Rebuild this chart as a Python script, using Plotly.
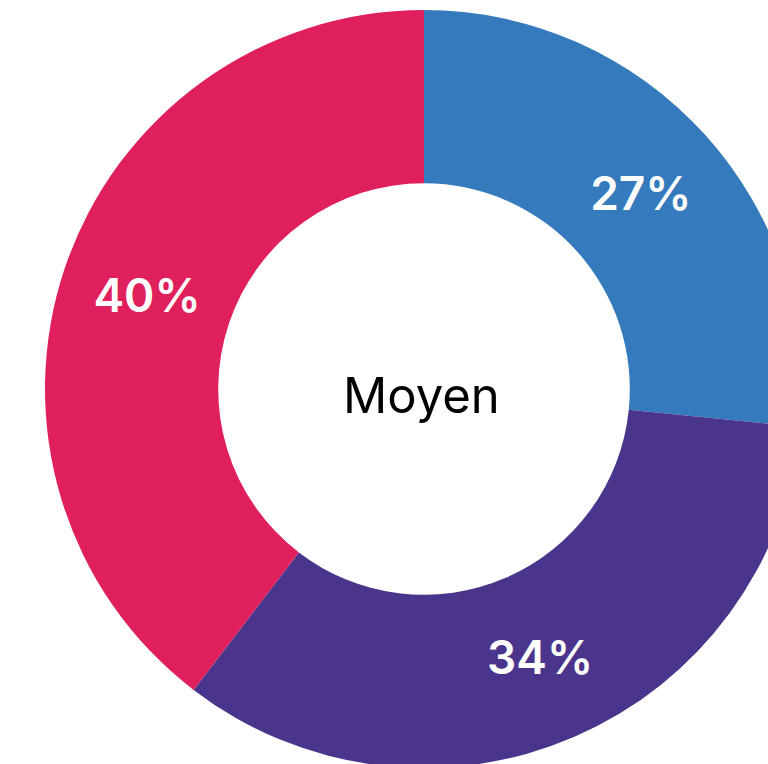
import plotly.graph_objects as go

labels = ["A", "B", "C"]
values = [26.6, 33.8, 39.6]
colors = ["rgb(52,122,189)", "rgb(75,53,140)", "rgb(224,32,92)"]
center_label = "Moyen"

W, H = 848, 778
pad = 10

fig = go.Figure(go.Pie(
    labels=labels,
    values=values,
    hole=0.543,
    sort=False,
    direction="clockwise",
    rotation=0,
    marker=dict(colors=colors, line=dict(width=0)),
    texttemplate="%{percent:.0%}",
    textposition="inside",
    insidetextorientation="horizontal",
    textfont=dict(family="Inter", size=46, color="white", weight=600),
    showlegend=False,
    domain=dict(x=[0, 1], y=[pad / H, 1 - pad / H]),
))

fig.add_annotation(
    text=center_label, x=421 / W, y=1 - 395 / H, xref="paper", yref="paper",
    showarrow=False, xanchor="center", yanchor="middle",
    font=dict(family="Inter", size=49, color="black"),
)

fig.update_layout(
    width=W, height=H,
    margin=dict(l=0, r=0, t=0, b=0),
    paper_bgcolor="white", plot_bgcolor="white",
)

fig.write_html(
    "out.html",
    config={"displayModeBar": False},
    post_script="document.body.style.margin='0';document.body.style.overflow='hidden';document.documentElement.style.overflow='hidden';",
)
